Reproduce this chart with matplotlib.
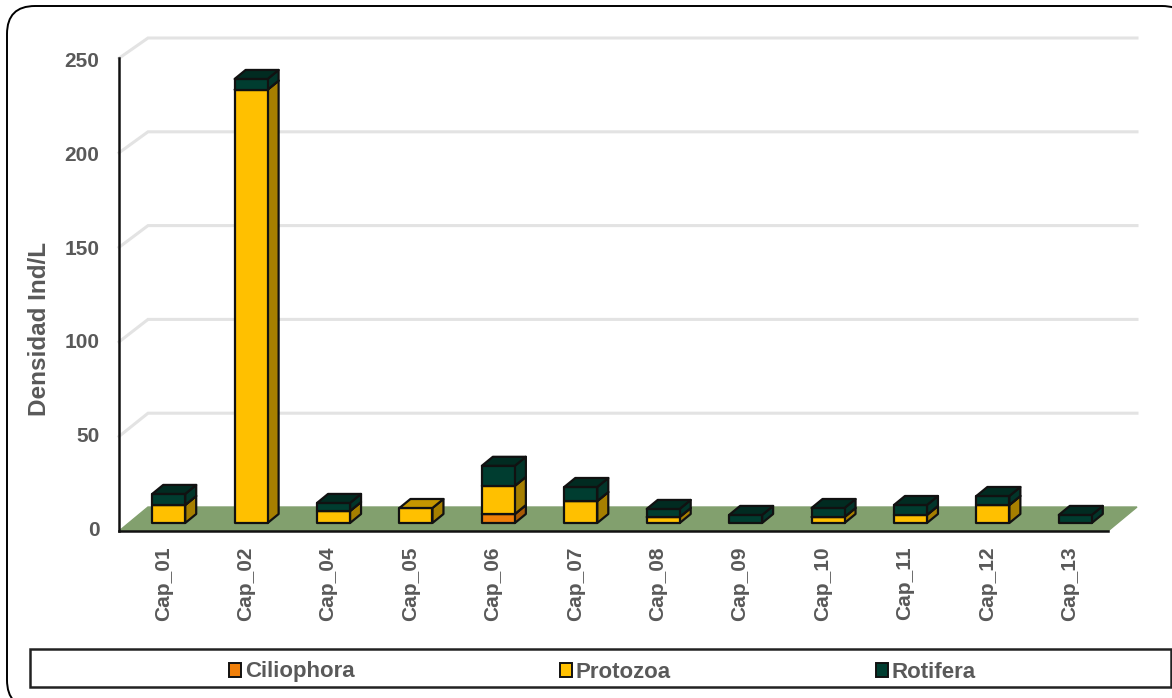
import matplotlib
matplotlib.use("Agg")
import matplotlib.pyplot as plt
from matplotlib.patches import FancyBboxPatch, Rectangle, Patch
from matplotlib.transforms import ScaledTranslation

plt.rcParams['font.family'] = ['Liberation Sans', 'DejaVu Sans']

categories = ['Cap_01', 'Cap_02', 'Cap_04', 'Cap_05', 'Cap_06', 'Cap_07',
              'Cap_08', 'Cap_09', 'Cap_10', 'Cap_11', 'Cap_12', 'Cap_13']
ciliophora = [0, 0, 0, 0, 4.8, 0, 0, 0, 0, 0, 0, 0]
protozoa = [9.6, 231, 6.4, 8, 15, 11.7, 3.2, 0, 3.2, 4.3, 9.6, 0]
rotifera = [5.9, 5.7, 4.3, 0, 10.7, 7.5, 4.3, 4.3, 4.8, 5.3, 4.8, 4.3]
y_ticks = [0, 50, 100, 150, 200, 250]

series = [
    ('Ciliophora', ciliophora, '#F07F09', '#A85A06', '#C46A08'),
    ('Protozoa', protozoa, '#FFC000', '#A67F00', '#C49600'),
    ('Rotifera', rotifera, '#003D30', '#02352A', '#012B21'),
]

TEXT = '#595959'
W, H = 1172, 698
left, right, top, bottom = 119, 1108, 62, 531

fig = plt.figure(figsize=(W / 100, H / 100), dpi=100)

# capa de fondo en pixeles: marco exterior (se sale de la imagen) y caja de la leyenda
bg = fig.add_axes([0, 0, 1, 1], zorder=0)
bg.set_xlim(0, W)
bg.set_ylim(H, 0)
bg.axis('off')
bg.add_patch(FancyBboxPatch((7, 6), 1183, 702, boxstyle='round,pad=0,rounding_size=28',
                            fc='white', ec='black', lw=1.4, clip_on=True))
bg.add_patch(Rectangle((30, 649), 1141, 38, fc='white', ec='#222222', lw=1.8))

ax = fig.add_axes([left / W, 1 - bottom / H, (right - left) / W, (bottom - top) / H], zorder=1)
ax.patch.set_alpha(0)
ax.set_xlim(-0.5, len(categories) - 0.5)
ax.set_ylim(0, 250)

ux = (len(categories)) / (right - left)   # unidades de x por pixel
uy = 250 / (bottom - top)                 # unidades de y por pixel

# piso y lineas de fondo
dx, dy = 29 * ux, 24 * uy
x0, x1 = -0.5, len(categories) - 0.5
ax.fill([x0, x1, x1 + dx, x0 + dx], [0, 0, dy, dy], color='#82A06E', zorder=1, clip_on=False)
for t in y_ticks[1:]:
    ax.plot([x0, x0 + dx, x1 + dx], [t * 1.008, t + dy, t + dy], color='#E3E3E3', lw=2.2,
            zorder=1, clip_on=False, solid_joinstyle='miter')

# barras 3D apiladas
bar_w = 33 * ux
off_x, off_y = 8.5 * ux, 8 * uy
dep_x, dep_y = 11 * ux, 9 * uy
edge = dict(ec='#111111', lw=1.6, zorder=3, clip_on=False, joinstyle='round')
base = [0] * len(categories)
for name, values, front, side, lid in series:
    for i, v in enumerate(values):
        if v == 0:
            continue
        a = i + off_x - bar_w / 2
        b = a + bar_w
        y0 = base[i] + off_y
        y1 = y0 + v
        ax.fill([b, b + dep_x, b + dep_x, b], [y0, y0 + dep_y, y1 + dep_y, y1], fc=side, **edge)
        ax.fill([a, b, b, a], [y0, y0, y1, y1], fc=front, **edge)
        ax.fill([a, b, b + dep_x, a + dep_x], [y1, y1, y1 + dep_y, y1 + dep_y], fc=lid, **edge)
        base[i] += v

for s in ['top', 'right']:
    ax.spines[s].set_visible(False)
for s in ['left', 'bottom']:
    ax.spines[s].set_linewidth(1.8)
    ax.spines[s].set_color('#111111')
ax.spines['left'].set_bounds(0, 252)

ax.set_xticks(range(len(categories)))
ax.set_xticklabels(categories, rotation=90, fontsize=15, fontweight='bold', color=TEXT)
ax.set_yticks(y_ticks)
ax.set_yticklabels(y_ticks, fontsize=15, fontweight='bold', color=TEXT)
ax.tick_params(length=0)
ax.tick_params(axis='x', pad=11)
ax.tick_params(axis='y', pad=14)

# correr las etiquetas unos pixeles, como en el original
for lab in ax.get_xticklabels():
    lab.set_transform(lab.get_transform() + ScaledTranslation(3 / 100, 0, fig.dpi_scale_trans))
for lab in ax.get_yticklabels():
    lab.set_transform(lab.get_transform() + ScaledTranslation(0, 2.5 / 100, fig.dpi_scale_trans))

ax.set_ylabel('Densidad Ind/L', fontsize=17.5, fontweight='bold', color=TEXT)
ax.yaxis.set_label_coords(-68 / (right - left), 0.43)

handles = [Patch(fc=s[2], ec='#111111', lw=1.4, label=s[0]) for s in series]
fig.legend(handles=handles, ncol=3, frameon=False, loc='center',
           bbox_to_anchor=(602.5 / W, 1 - 672 / H), columnspacing=9.25,
           handlelength=0.55, handleheight=0.6, handletextpad=0.15,
           prop={'weight': 'bold', 'size': 16}, labelcolor=TEXT)

fig.savefig('out.png', dpi=100)
